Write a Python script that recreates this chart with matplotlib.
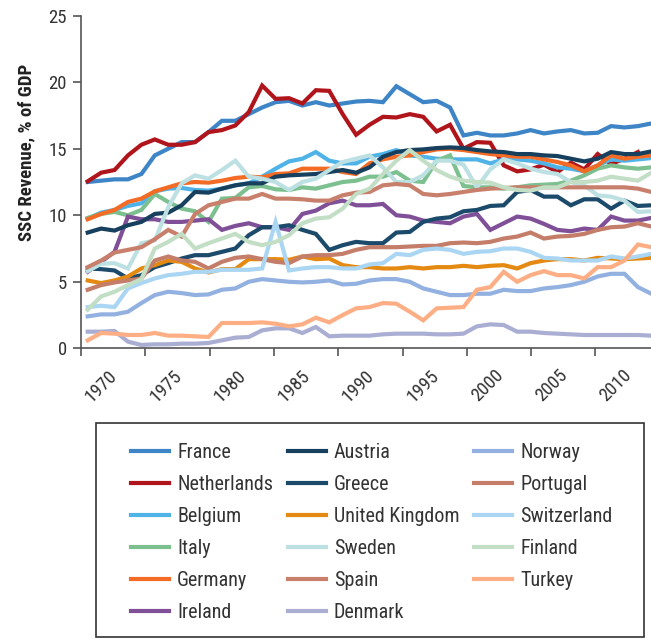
import numpy as np
import matplotlib
matplotlib.use("Agg")
import matplotlib.pyplot as plt
from matplotlib import font_manager as fm
from matplotlib.lines import Line2D
from matplotlib.patches import Rectangle

# ---- data: social security contributions, % of GDP, 1970-2012 ----
years = list(range(1970, 2013))

france = [12.5, 12.6, 12.7, 12.7, 13.1, 14.5, 15.0, 15.5, 15.5, 16.25, 17.1, 17.1, 17.6, 18.1,
          18.5, 18.6, 18.25, 18.5, 18.25, 18.4, 18.55, 18.6, 18.5, 19.7, 19.1, 18.5, 18.6, 18.1, 16.0,
          16.2, 16.0, 16.0, 16.15, 16.4, 16.15, 16.3, 16.4, 16.15, 16.2, 16.7, 16.6, 16.7, 16.9]
netherlands = [12.55, 13.2, 13.4, 14.5, 15.3, 15.7, 15.3, 15.3, 15.5, 16.25, 16.4, 16.75, 17.75, 19.75,
               18.75, 18.8, 18.4, 19.4, 19.35, 17.6, 16.05, 16.8, 17.4, 17.35, 17.6, 17.4, 16.3, 16.8, 15.0,
               15.5, 15.45, 13.75, 13.3, 13.45, 13.8, 13.25, 13.95, 13.45, 14.6, 13.85, 14.25, 14.75, np.nan]
belgium = [9.75, 10.2, 10.4, 10.7, 10.9, 11.8, 12.0, 12.05, 11.9, 11.85, 12.0, 12.25, 12.4, 12.9,
           13.5, 14.05, 14.25, 14.75, 14.1, 13.9, 13.9, 14.4, 14.6, 14.9, 14.5, 14.4, 14.25, 14.2, 14.2,
           14.2, 13.9, 14.2, 14.2, 14.1, 13.9, 13.6, 13.5, 13.3, 13.75, 14.2, 14.1, 14.2, 14.3]
italy = [9.8, 10.1, 10.25, 10.0, 10.4, 11.6, 11.0, 10.5, 10.3, 9.5, 11.25, 11.3, 12.1, 12.2,
         11.95, 11.9, 12.1, 12.0, 12.25, 12.5, 12.6, 12.9, 12.9, 13.25, 12.6, 12.5, 14.1, 14.5, 12.2,
         12.1, 12.1, 12.0, 12.1, 12.25, 12.3, 12.35, 12.6, 13.0, 13.5, 13.75, 13.6, 13.5, 13.6]
germany = [9.7, 10.1, 10.4, 11.0, 11.25, 11.8, 12.1, 12.4, 12.5, 12.45, 12.6, 12.8, 12.9, 12.85,
           13.1, 13.15, 13.5, 13.5, 13.5, 13.25, 13.1, 13.9, 14.2, 14.4, 14.5, 14.75, 14.95, 15.0, 14.9,
           14.75, 14.6, 14.5, 14.4, 14.4, 14.2, 14.0, 13.75, 13.3, 13.75, 14.5, 14.25, 14.4, 14.5]
ireland = [5.75, 6.5, 7.25, 9.9, 9.7, 9.7, 9.5, 9.5, 9.6, 9.7, 8.9, 9.2, 9.4, 9.1,
           9.1, 8.9, 10.1, 10.35, 10.9, 11.1, 10.75, 10.75, 10.85, 10.0, 9.9, 9.6, 9.5, 9.4, 9.9,
           10.1, 8.9, 9.4, 9.9, 9.75, 9.35, 8.9, 8.8, 9.0, 8.9, 9.9, 9.6, 9.6, 9.8]
austria = [8.7, 9.0, 8.85, 9.25, 9.5, 10.1, 10.2, 10.75, 11.75, 11.7, 12.0, 12.25, 12.4, 12.4,
           12.9, 13.0, 13.05, 13.1, 13.25, 13.4, 13.2, 13.6, 14.4, 14.75, 14.9, 14.95, 15.05, 15.1, 15.05,
           14.9, 14.8, 14.75, 14.6, 14.6, 14.5, 14.45, 14.25, 14.05, 14.25, 14.75, 14.6, 14.6, 14.8]
greece = [6.0, 5.95, 5.85, 5.25, 5.5, 6.1, 6.4, 6.75, 7.0, 7.0, 7.25, 7.5, 8.5, 9.1,
          9.1, 9.25, 8.9, 8.6, 7.4, 7.75, 8.0, 7.9, 7.9, 8.7, 8.75, 9.5, 9.75, 9.85, 10.3,
          10.4, 10.7, 10.75, 11.75, 11.9, 11.4, 11.4, 10.75, 11.2, 11.2, 10.5, 11.1, 10.7, 10.75]
united_kingdom = [5.1, 4.9, 5.1, 5.4, 6.0, 6.25, 6.6, 6.5, 6.0, 5.7, 5.95, 5.95, 6.7, 6.7,
                  6.7, 6.65, 6.9, 6.7, 6.75, 6.25, 6.1, 6.1, 6.0, 6.0, 6.1, 6.0, 6.1, 6.1, 6.2,
                  6.1, 6.2, 6.25, 6.0, 6.4, 6.6, 6.7, 6.7, 6.6, 6.8, 6.75, 6.7, 6.75, 6.8]
sweden = [5.8, 6.35, 6.4, 6.0, 7.9, 8.1, 10.6, 12.4, 13.0, 12.75, 13.4, 14.1, 12.9, 12.75,
          12.5, 11.9, 12.5, 12.75, 13.4, 14.0, 14.25, 14.5, 13.6, 12.5, 12.5, 13.0, 14.1, 14.1, 13.8,
          12.1, 13.45, 14.2, 13.9, 13.5, 13.25, 13.1, 12.5, 12.25, 11.5, 11.4, 11.1, 10.25, 10.3]
spain = [6.1, 6.6, 7.2, 7.4, 7.6, 8.2, 8.9, 8.4, 10.1, 10.75, 11.0, 11.25, 11.25, 11.6,
         11.25, 11.25, 11.2, 11.1, 11.1, 11.5, 11.7, 11.75, 12.25, 12.35, 12.25, 11.6, 11.5, 11.6, 11.75,
         11.9, 12.0, 12.05, 12.1, 12.1, 12.1, 12.1, 12.1, 12.1, 12.1, 12.1, 12.1, 12.0, 11.75]
denmark = [1.25, 1.25, 1.3, 0.5, 0.25, 0.3, 0.3, 0.35, 0.35, 0.4, 0.6, 0.8, 0.85, 1.35,
           1.5, 1.5, 1.15, 1.6, 0.9, 0.95, 0.95, 0.95, 1.05, 1.1, 1.1, 1.1, 1.05, 1.05, 1.1,
           1.65, 1.8, 1.75, 1.25, 1.25, 1.15, 1.1, 1.05, 1.0, 1.0, 1.0, 1.0, 1.0, 0.95]
norway = [2.4, 2.55, 2.55, 2.75, 3.4, 4.0, 4.25, 4.15, 4.0, 4.05, 4.4, 4.5, 5.0, 5.2,
          5.1, 5.0, 4.95, 5.0, 5.1, 4.8, 4.85, 5.1, 5.2, 5.2, 5.0, 4.5, 4.25, 4.0, 4.0,
          4.1, 4.1, 4.4, 4.3, 4.3, 4.5, 4.6, 4.75, 5.0, 5.4, 5.6, 5.6, 4.6, 4.1]
portugal = [4.4, 4.75, 4.95, 5.1, 5.25, 6.6, 6.9, 6.6, 6.5, 6.0, 6.5, 6.8, 6.9, 6.7,
            6.5, 6.4, 6.9, 7.0, 7.0, 7.1, 7.4, 7.6, 7.6, 7.6, 7.65, 7.7, 7.7, 7.9, 7.95,
            7.9, 8.0, 8.25, 8.4, 8.7, 8.25, 8.4, 8.45, 8.6, 8.9, 9.1, 9.15, 9.4, 9.15]
switzerland = [3.1, 3.2, 3.1, 4.5, 4.9, 5.25, 5.5, 5.6, 5.75, 5.75, 5.9, 5.9, 5.9, 6.0,
               9.5, 5.85, 6.0, 6.1, 6.1, 6.0, 6.0, 6.3, 6.4, 7.1, 7.0, 7.4, 7.5, 7.4, 7.1,
               7.25, 7.3, 7.5, 7.5, 7.25, 6.8, 6.75, 6.6, 6.6, 6.6, 6.9, 6.75, 6.9, 7.1]
finland = [2.9, 3.9, 4.25, 4.75, 5.2, 7.5, 8.0, 8.6, 7.5, 7.9, 8.25, 8.6, 8.0, 7.75,
           8.0, 8.5, 9.4, 9.75, 9.85, 10.5, 11.6, 12.0, 13.1, 14.1, 14.9, 14.1, 13.4, 12.9, 12.6,
           12.5, 12.45, 12.1, 11.9, 11.85, 12.1, 12.1, 12.5, 12.5, 12.6, 12.9, 12.75, 12.6, 13.2]
turkey = [0.6, 1.15, 1.1, 1.0, 1.0, 1.15, 0.95, 0.95, 0.9, 0.85, 1.9, 1.9, 1.9, 1.95,
          1.85, 1.65, 1.8, 2.3, 1.95, 2.5, 3.0, 3.1, 3.4, 3.35, 2.75, 2.1, 3.0, 3.05, 3.1,
          4.4, 4.6, 5.75, 5.0, 5.5, 5.8, 5.5, 5.5, 5.25, 6.1, 6.1, 6.6, 7.8, 7.6]

countries = ["France", "Netherlands", "Belgium", "Italy", "Germany", "Ireland",
             "Austria", "Greece", "United Kingdom", "Sweden", "Spain", "Denmark",
             "Norway", "Portugal", "Switzerland", "Finland", "Turkey"]
series = [france, netherlands, belgium, italy, germany, ireland,
          austria, greece, united_kingdom, sweden, spain, denmark,
          norway, portugal, switzerland, finland, turkey]
colors = ["#3d85c6", "#b0151c", "#4fb3e8", "#7cc08f", "#f36b25", "#7f4f98",
          "#17405f", "#1c4a6b", "#e48a12", "#bde0e3", "#c8806c", "#aaaed3",
          "#93b1e0", "#c47d69", "#aad6f3", "#c2dfc6", "#fdae84"]

tick_labels = ["1970", "1975", "1980", "1985", "1990", "1995", "2000", "2005", "2010"]

# ---- font: prefer a narrow sans ----
available = {f.name for f in fm.fontManager.ttflist}
family = "DejaVu Sans"
for cand in ["Roboto Condensed", "Liberation Sans Narrow"]:
    if cand in available:
        family = cand
        break
plt.rcParams["font.family"] = [family, "DejaVu Sans"]

W, H = 651, 639
fig = plt.figure(figsize=(W / 100, H / 100), dpi=100)

def fx(px):
    return px / W

def fy(py):
    return 1 - py / H

left_px, right_px, top_px, bot_px = 81, 660, 15.7, 348.3
ax = fig.add_axes([fx(left_px), fy(bot_px), fx(right_px - left_px), (bot_px - top_px) / H])

for name, vals, col in zip(countries, series, colors):
    ax.plot(years, vals, color=col, lw=3.0, label=name, solid_joinstyle="miter")

year_px = 13.42
ax.set_xlim(1970 - 6.7 / year_px, 1970 - 6.7 / year_px + (right_px - left_px) / year_px)
ax.set_ylim(0, 25)
ax.set_yticks([0, 5, 10, 15, 20, 25])
ax.tick_params(axis="y", direction="out", length=6, width=1.2, color="#555555",
               labelsize=13.5, labelcolor="#333333", pad=4)
ax.set_xticks([])
for s in ["top", "right"]:
    ax.spines[s].set_visible(False)
for s in ["left", "bottom"]:
    ax.spines[s].set_color("#555555")
    ax.spines[s].set_linewidth(1.2)

# category axis carrying the 5-year ticks and labels
cat_px = 64.3 / 5
axc = ax.twiny()
axc.set_xlim(0, (right_px - left_px) / cat_px)
axc.xaxis.set_ticks_position("bottom")
axc.xaxis.set_label_position("bottom")
for s in ["top", "right", "left", "bottom"]:
    axc.spines[s].set_visible(False)
axc.set_xticks(np.arange(0, 41, 5))
axc.set_xticks(np.arange(len(tick_labels)) * 5 + 3.1, minor=True)
axc.set_xticklabels([])
axc.set_xticklabels(tick_labels, minor=True, rotation=45, ha="right", va="top")
axc.tick_params(axis="x", which="major", direction="out", length=6, width=1.2, color="#555555")
axc.tick_params(axis="x", which="minor", length=0, pad=13, labelsize=13.5, labelcolor="#333333")

fig.text(fx(26.5), fy(152.7), "SSC Revenue, % of GDP", rotation=90, ha="center", va="center",
         fontsize=13.5, fontweight="bold", color="#222222")

# legend frame and entries
fig.add_artist(Rectangle((fx(96), fy(637)), fx(644 - 96), (637 - 422.7) / H,
                         transform=fig.transFigure, fill=False, edgecolor="#333333", lw=1.2))
handles = [Line2D([], [], color=c, lw=3.0) for c in colors]
fig.legend(handles, countries, loc="upper left", bbox_to_anchor=(fx(130.7), fy(443.5)),
           ncol=3, frameon=False, fontsize=14.5, handlelength=1.89, handletextpad=0.41,
           columnspacing=0.72, labelspacing=0.64, borderpad=0, borderaxespad=0,
           labelcolor="#333333")

fig.savefig("out.png", dpi=100)
